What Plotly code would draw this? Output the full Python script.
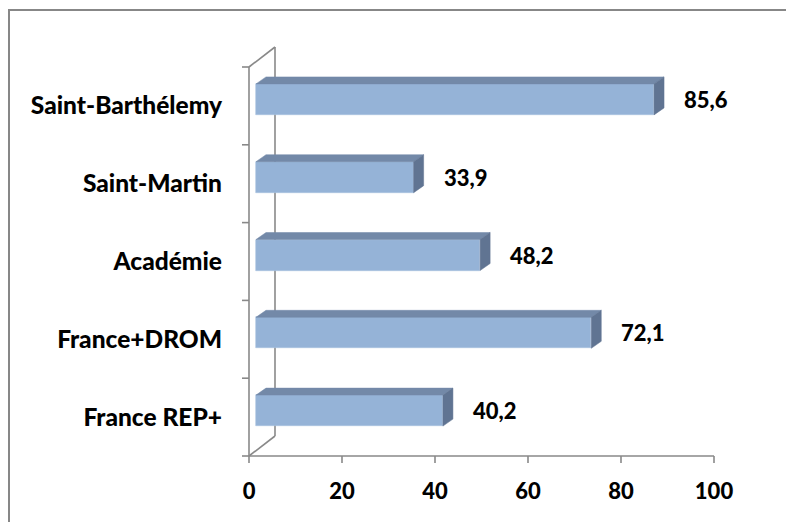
import plotly.graph_objects as go

# ---- data ----
categories = ["France REP+", "France+DROM", "Académie", "Saint-Martin", "Saint-Barthélemy"]
values = [40.2, 72.1, 48.2, 33.9, 85.6]
x_ticks = [0, 20, 40, 60, 80, 100]
value_labels = [f"{v:.1f}".replace(".", ",") for v in values]

# ---- geometry (reference pixels) ----
OFF = 8                                      # page body margin
W, H = 794 - OFF, 522 - OFF                  # figure size
PL, PR, PT, PB = 240, 744, 40, 464           # plot area in reference pixels
X0PX, X100PX = 249, 714                      # x=0 and x=100 pixels
Y0PX, KY = 456, 77.8                         # category unit in pixels
KX = (X100PX - X0PX) / 100.0
xr = [(PL - X0PX) / KX, (PR - X0PX) / KX]
yr = [(Y0PX - PB) / KY, (Y0PX - PT) / KY]


def dx(p):
    return p / KX


def dy(p):
    return p / KY


NUM_FONT = dict(family="Lato, 'Open Sans', sans-serif", size=22, color="black", weight=900)
CAT_FONT = dict(family="Lato, 'Open Sans', sans-serif", size=24.5, color="black", weight=900)
GRAY = "#898989"
FRONT = "#95B3D7"
TOP = "#7389A8"
SIDE = "#607492"

n = len(categories)
fig = go.Figure()

# front faces as bars
bar_w = 31 / KY
base = dx(7)
yshift = dy(6.5)
ys = [i + 0.5 + yshift for i in range(n)]
fig.add_trace(go.Bar(
    x=values, y=ys, base=base, width=bar_w, orientation="h",
    marker=dict(color=FRONT, line=dict(width=0.6, color="#A9C2E0")),
    hoverinfo="skip", showlegend=False,
))

# top and side faces
ddx, ddy = dx(10), dy(7)
for v, yc in zip(values, ys):
    yt, yb = yc + bar_w / 2, yc - bar_w / 2
    xe = base + v
    fig.add_trace(go.Scatter(
        x=[base, xe, xe + ddx, base + ddx, base], y=[yt, yt, yt + ddy, yt + ddy, yt],
        fill="toself", fillcolor=TOP, mode="lines", line=dict(width=0.5, color=TOP),
        hoverinfo="skip", showlegend=False))
    fig.add_trace(go.Scatter(
        x=[xe, xe + ddx, xe + ddx, xe, xe], y=[yt, yt + ddy, yb + ddy, yb, yt],
        fill="toself", fillcolor=SIDE, mode="lines", line=dict(width=0.5, color=SIDE),
        hoverinfo="skip", showlegend=False))

# value labels
annotations = []
for v, yc, t in zip(values, ys, value_labels):
    annotations.append(dict(
        x=base + v + dx(28), y=yc, text=t, showarrow=False,
        xanchor="left", yanchor="middle", font=NUM_FONT, xref="x", yref="y"))

# walls / axes as shapes below traces
WDX, WDY = dx(26), dy(20)
line = dict(color=GRAY, width=1.6)
shapes = []
shapes.append(dict(type="line", xref="x", yref="y", x0=0, y0=0, x1=0, y1=n, line=line, layer="below"))
shapes.append(dict(type="line", xref="x", yref="y", x0=0, y0=n, x1=WDX, y1=n + WDY, line=line, layer="below"))
shapes.append(dict(type="line", xref="x", yref="y", x0=WDX, y0=WDY, x1=WDX, y1=n + WDY, line=line, layer="below"))
shapes.append(dict(type="line", xref="x", yref="y", x0=0, y0=0, x1=WDX, y1=WDY, line=line, layer="below"))
shapes.append(dict(type="line", xref="x", yref="y", x0=x_ticks[0], y0=0, x1=x_ticks[-1], y1=0, line=line, layer="below"))
for i in range(n + 1):
    shapes.append(dict(type="line", xref="x", yref="y", x0=0, y0=i, x1=-dx(7), y1=i, line=line, layer="below"))
for t in x_ticks:
    shapes.append(dict(type="line", xref="x", yref="y", x0=t, y0=0, x1=t, y1=-dy(7), line=line, layer="below"))

# outer border (top and left visible)
pw, ph = PR - PL, PB - PT
shapes.append(dict(type="rect", xref="paper", yref="paper",
                   x0=(9 - PL) / pw, x1=(800 + 20 - PL) / pw,
                   y0=(PB - (522 + 20)) / ph, y1=(PB - 10) / ph,
                   line=dict(color="#878787", width=2), fillcolor="rgba(0,0,0,0)"))

fig.update_layout(
    width=W, height=H,
    margin=dict(l=PL - OFF, r=W - (PR - OFF), t=PT - OFF, b=H - (PB - OFF), pad=0),
    paper_bgcolor="white", plot_bgcolor="white",
    shapes=shapes, annotations=annotations,
    bargap=0,
    xaxis=dict(range=xr, showgrid=False, zeroline=False, showline=False, ticks="",
               tickmode="array", tickvals=x_ticks, ticktext=[str(t) for t in x_ticks],
               tickfont=NUM_FONT, ticklabelstandoff=12, fixedrange=True),
    yaxis=dict(range=yr, showgrid=False, zeroline=False, showline=False, ticks="",
               tickmode="array", tickvals=[i + 0.5 for i in range(n)], ticktext=categories,
               tickfont=CAT_FONT, ticklabelstandoff=17, fixedrange=True),
)

fig.write_html("out.html")
